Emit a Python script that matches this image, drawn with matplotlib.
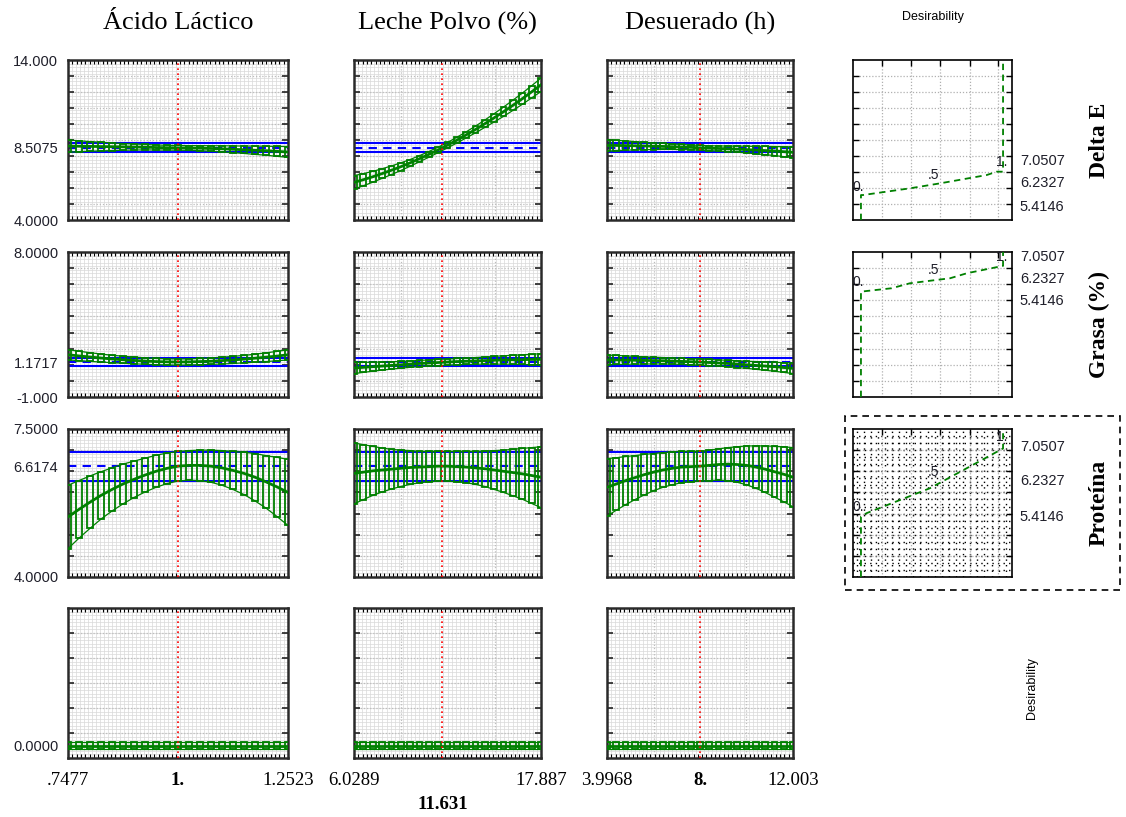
import numpy as np
import matplotlib
matplotlib.use('Agg')
import matplotlib.pyplot as plt
from matplotlib.patches import Rectangle

SERIF = 'Liberation Serif'
SANS = 'Liberation Sans'
W, H = 1126, 817

# ---- factors (columns) ----
factor_names = ['Ácido Láctico', 'Leche Polvo (%)', 'Desuerado (h)']
factor_lo = [0.7477, 6.0289, 3.9968]
factor_hi = [1.2523, 17.887, 12.003]
factor_cur = [1.0, 11.631, 8.0]
lo_labels = ['.7477', '6.0289', '3.9968']
hi_labels = ['1.2523', '17.887', '12.003']
cur_labels = ['1.', '11.631', '8.']
major_vgrid = [[], [9.0, 15.0], [6.0, 10.0]]

# ---- responses (rows) ----
resp_names = ['Delta E', 'Grasa (%)', 'Proteína']
resp_ylim = [(4.0, 14.0), (-1.0, 8.0), (4.0, 7.5)]
resp_step = [1.0, 1.0, 0.5]
resp_pred = [8.5075, 1.1717, 6.6174]
resp_ci_lo = [8.22, 0.93, 6.27]
resp_ci_hi = [8.79, 1.41, 6.96]
resp_top_lab = ['14.000', '8.0000', '7.5000']
resp_mid_lab = ['8.5075', '1.1717', '6.6174']
resp_bot_lab = ['4.0000', '-1.000', '4.0000']

# predicted profiles (21 points across each factor range) and CI half-widths
delta_acido = [8.62, 8.61, 8.60, 8.59, 8.58, 8.57, 8.56, 8.55, 8.53, 8.52, 8.51,
               8.50, 8.49, 8.47, 8.45, 8.42, 8.39, 8.36, 8.33, 8.29, 8.25]
delta_acido_e = [0.38, 0.34, 0.30, 0.27, 0.24, 0.21, 0.19, 0.17, 0.16, 0.15, 0.15,
                 0.15, 0.16, 0.17, 0.19, 0.21, 0.23, 0.26, 0.28, 0.31, 0.34]
delta_leche = [6.35, 6.52, 6.70, 6.90, 7.11, 7.33, 7.57, 7.83, 8.10, 8.38, 8.68,
               8.99, 9.32, 9.66, 10.02, 10.39, 10.77, 11.17, 11.58, 12.01, 12.45]
delta_leche_e = [0.42, 0.38, 0.34, 0.30, 0.27, 0.24, 0.21, 0.19, 0.18, 0.17, 0.17,
                 0.18, 0.19, 0.21, 0.23, 0.26, 0.29, 0.32, 0.35, 0.38, 0.42]
delta_desu = [8.66, 8.66, 8.65, 8.64, 8.63, 8.61, 8.60, 8.58, 8.56, 8.54, 8.51,
              8.49, 8.47, 8.45, 8.43, 8.40, 8.37, 8.34, 8.31, 8.27, 8.23]
delta_desu_e = [0.36, 0.32, 0.29, 0.26, 0.23, 0.21, 0.19, 0.17, 0.16, 0.15, 0.15,
                0.15, 0.16, 0.17, 0.19, 0.21, 0.23, 0.26, 0.28, 0.31, 0.34]

grasa_acido = [1.62, 1.55, 1.48, 1.42, 1.36, 1.31, 1.27, 1.23, 1.20, 1.18, 1.17,
               1.18, 1.20, 1.22, 1.26, 1.30, 1.35, 1.41, 1.47, 1.54, 1.62]
grasa_acido_e = [0.32, 0.29, 0.27, 0.25, 0.23, 0.22, 0.21, 0.20, 0.19, 0.19, 0.19,
                 0.19, 0.19, 0.20, 0.21, 0.22, 0.23, 0.25, 0.27, 0.29, 0.32]
grasa_leche = [0.80, 0.84, 0.88, 0.92, 0.96, 1.00, 1.04, 1.08, 1.11, 1.14, 1.17,
               1.20, 1.22, 1.24, 1.26, 1.28, 1.30, 1.31, 1.32, 1.33, 1.34]
grasa_leche_e = [0.35, 0.31, 0.28, 0.25, 0.23, 0.21, 0.20, 0.19, 0.19, 0.19, 0.19,
                 0.19, 0.20, 0.21, 0.22, 0.24, 0.26, 0.28, 0.30, 0.32, 0.35]
grasa_desu = [1.30, 1.30, 1.29, 1.28, 1.27, 1.26, 1.25, 1.23, 1.21, 1.19, 1.17,
              1.14, 1.11, 1.08, 1.04, 1.00, 0.96, 0.92, 0.88, 0.83, 0.78]
grasa_desu_e = [0.30, 0.28, 0.26, 0.24, 0.22, 0.21, 0.20, 0.19, 0.19, 0.19, 0.19,
                0.19, 0.19, 0.20, 0.21, 0.22, 0.24, 0.26, 0.28, 0.30, 0.33]

prot_acido = [5.42, 5.60, 5.77, 5.93, 6.07, 6.20, 6.31, 6.41, 6.50, 6.57, 6.62,
              6.64, 6.64, 6.62, 6.58, 6.52, 6.45, 6.36, 6.25, 6.13, 6.00]
prot_acido_e = [0.75, 0.68, 0.62, 0.56, 0.51, 0.47, 0.43, 0.40, 0.38, 0.36, 0.35,
                0.35, 0.36, 0.38, 0.41, 0.45, 0.50, 0.56, 0.62, 0.70, 0.78]
prot_leche = [6.45, 6.48, 6.51, 6.53, 6.55, 6.57, 6.59, 6.60, 6.61, 6.62, 6.62,
              6.61, 6.60, 6.58, 6.56, 6.53, 6.50, 6.47, 6.44, 6.40, 6.36]
prot_leche_e = [0.72, 0.65, 0.58, 0.52, 0.47, 0.43, 0.40, 0.37, 0.36, 0.35, 0.35,
                0.36, 0.37, 0.39, 0.42, 0.46, 0.50, 0.55, 0.60, 0.66, 0.72]
prot_desu = [6.12, 6.20, 6.28, 6.35, 6.42, 6.48, 6.53, 6.57, 6.60, 6.61, 6.62,
             6.64, 6.66, 6.67, 6.66, 6.64, 6.60, 6.55, 6.49, 6.43, 6.36]
prot_desu_e = [0.68, 0.62, 0.57, 0.52, 0.48, 0.44, 0.41, 0.39, 0.37, 0.36, 0.35,
               0.36, 0.37, 0.39, 0.42, 0.46, 0.50, 0.55, 0.60, 0.65, 0.70]

desir_vals = [0.0, 0.0, 0.0, 0.0, 0.0, 0.0, 0.0, 0.0, 0.0, 0.0, 0.0,
              0.0, 0.0, 0.0, 0.0, 0.0, 0.0, 0.0, 0.0, 0.0, 0.0]
desir_err = [0.03] * 21

profiles = [[(delta_acido, delta_acido_e), (delta_leche, delta_leche_e), (delta_desu, delta_desu_e)],
            [(grasa_acido, grasa_acido_e), (grasa_leche, grasa_leche_e), (grasa_desu, grasa_desu_e)],
            [(prot_acido, prot_acido_e), (prot_leche, prot_leche_e), (prot_desu, prot_desu_e)]]

# desirability functions (desirability on x, response on y)
dfun_d = [[0.0, 0.0, 0.014, 0.345, 0.556, 0.885, 0.955, 1.0, 1.0],
          [0.0, 0.0, 0.216, 0.345, 0.627, 0.745, 1.0, 1.0],
          [0.0, 0.0, 0.04, 0.486, 1.0, 1.0]]
dfun_v = [[4.0, 5.56, 5.56, 5.98, 6.29, 6.81, 7.02, 7.02, 14.0],
          [-1.0, 5.54, 5.75, 6.06, 6.37, 6.68, 7.14, 8.0],
          [4.0, 5.43, 5.51, 6.10, 7.04, 7.40]]
dfun_marks = ['0.', '.5', '1.']
dfun_mark_d = [-0.02, 0.51, 0.99]
dfun_mark_v = [[6.08, 6.81, 7.64], [6.16, 6.89, 7.71], [5.66, 6.49, 7.32]]
dside_labels = ['7.0507', '6.2327', '5.4146']
dside_frac = [[0.371, 0.229, 0.083], [0.968, 0.815, 0.660], [0.876, 0.651, 0.407]]
dgrid_x = [0.148, 0.352, 0.556, 0.768, 0.965]

# ---- layout (pixels) ----
col_x = [(68, 288), (354, 541), (607, 793), (853, 1012)]
row_y = [(60, 220), (252, 397), (429, 577), (608, 758)]


def rect(c, r):
    l, rr = col_x[c]
    t, b = row_y[r]
    return [l / W, 1 - b / H, (rr - l) / W, (b - t) / H]


GREEN = '#008000'
fig = plt.figure(figsize=(W / 100, H / 100), dpi=100)


def texture(ax, x0, x1, y0, y1, npx_w, npx_h):
    xs = np.linspace(x0, x1, int(npx_w / 4) + 1)
    ys = np.linspace(y0, y1, int(npx_h / 3.5) + 1)
    ax.vlines(xs, y0, y1, colors='#d9d9d9', lw=0.5, zorder=0)
    ax.hlines(ys, x0, x1, colors='#d9d9d9', lw=0.5, zorder=0)


for r in range(4):
    for c in range(3):
        ax = fig.add_axes(rect(c, r))
        x0, x1 = factor_lo[c], factor_hi[c]
        if r < 3:
            y0, y1 = resp_ylim[r]
            step = resp_step[r]
        else:
            y0, y1 = -0.1, 1.1
            step = 0.2
        pw = col_x[c][1] - col_x[c][0]
        ph = row_y[r][1] - row_y[r][0]
        texture(ax, x0, x1, y0, y1, pw, ph)
        yt = np.arange(y0 + step, y1 - step / 2, step)
        ax.hlines(yt, x0, x1, colors='#bdbdbd', lw=0.9, ls=(0, (1, 1.5)), zorder=0.5)
        if major_vgrid[c]:
            ax.vlines(major_vgrid[c], y0, y1, colors='#bdbdbd', lw=0.9, ls=(0, (1, 1.5)), zorder=0.5)

        xs = np.linspace(x0, x1, 21)
        if r < 3:
            mean, err = profiles[r][c]
            ax.axhline(resp_ci_hi[r], color='#0000ff', lw=1.5, zorder=2)
            ax.axhline(resp_ci_lo[r], color='#0000ff', lw=1.5, zorder=2)
            ax.axhline(resp_pred[r], color='#0000ff', lw=1.5, ls=(0, (4, 3)), zorder=2)
        else:
            mean, err = desir_vals, desir_err
        m = np.array(mean)
        e = np.array(err)
        # confidence boxes around each predicted point
        bw = (x1 - x0) / 20 * 0.62
        ax.bar(xs, 2 * e, bottom=m - e, width=bw, fill=False, edgecolor=GREEN,
               lw=1.3, zorder=3)
        ax.plot(xs, m, color=GREEN, lw=2.0, zorder=3)
        ax.plot(xs, m + e, color=GREEN, lw=0.9, zorder=3)
        ax.plot(xs, m - e, color=GREEN, lw=0.9, zorder=3)
        ax.axvline(factor_cur[c], color='#ff0000', lw=1.2, ls=(0, (1, 2)), zorder=4)

        ax.set_xlim(x0, x1)
        ax.set_ylim(y0, y1)
        ax.set_xticks([])
        ax.set_xticks(np.linspace(x0, x1, int(pw / 4.3) + 1), minor=True)
        ax.set_yticks(yt, minor=True)
        ax.tick_params(which='minor', axis='x', direction='in', top=True, bottom=True,
                       length=3, width=0.8, color='black')
        ax.tick_params(which='minor', axis='y', direction='in', left=True, right=True,
                       length=4, width=1.2, color='#222222')
        if r < 3:
            ylab_vals = [y1, resp_pred[r], y0]
            ylab_txt = [resp_top_lab[r], resp_mid_lab[r], resp_bot_lab[r]]
        else:
            ylab_vals = [0.0]
            ylab_txt = ['0.0000']
        ax.set_yticks(ylab_vals)
        ax.set_yticklabels(ylab_txt if c == 0 else [''] * len(ylab_vals),
                           fontsize=10.5, family=SANS, color='#1f1f2a')
        ax.tick_params(which='major', axis='y', length=0, pad=7)
        for s in ax.spines.values():
            s.set_linewidth(1.8)
            s.set_color('#2a2a2a')

        if r == 0:
            ax.set_title(factor_names[c], fontsize=19, family=SERIF, pad=22)
        if r == 3:
            tr = ax.get_xaxis_transform()
            ax.text(x0, -0.147, lo_labels[c], transform=tr, ha='center', va='center',
                    fontsize=13.5, family=SERIF)
            ax.text(x1, -0.147, hi_labels[c], transform=tr, ha='center', va='center',
                    fontsize=13.5, family=SERIF)
            cy = -0.313 if c == 1 else -0.147
            ax.text(factor_cur[c], cy, cur_labels[c], transform=tr, ha='center', va='center',
                    fontsize=13.5, family=SERIF, weight='bold')

# ---- desirability function panels ----
for r in range(3):
    ax = fig.add_axes(rect(3, r))
    y0, y1 = resp_ylim[r]
    step = resp_step[r]
    dx0, dx1 = -0.056, 1.063
    yt = np.arange(y0 + step, y1 - step / 2, step)
    if r == 2:
        ax.hlines(np.arange(y0, y1, step / 3), dx0, dx1, colors='black', lw=1.0,
                  ls=(0, (1, 3)), zorder=0)
        ax.vlines(np.arange(dx0 + 0.025, dx1, 0.05), y0, y1, colors='black', lw=1.0,
                  ls=(0, (1, 3)), zorder=0)
    ax.hlines(yt, dx0, dx1, colors='#b0b0b0', lw=0.9, ls=(0, (1, 1.5)), zorder=0.5)
    ax.vlines(dgrid_x, y0, y1, colors='#b0b0b0', lw=0.9, ls=(0, (1, 1.5)), zorder=0.5)
    ax.plot(dfun_d[r], dfun_v[r], color=GREEN, lw=1.3, ls=(0, (3.5, 2.5)), zorder=3)
    for k in range(3):
        ax.text(dfun_mark_d[k], dfun_mark_v[r][k], dfun_marks[k], ha='center', va='center',
                fontsize=10, family=SANS, color='#1f1f2a', zorder=4)
    for k in range(3):
        ax.text(1.05, dside_frac[r][k], dside_labels[k], transform=ax.transAxes,
                ha='left', va='center', fontsize=10.5, family=SANS, color='#1f1f2a')
    ax.text(1.55, 0.5, resp_names[r], transform=ax.transAxes, rotation=90,
            ha='center', va='center', fontsize=17, family=SERIF, weight='bold')
    ax.set_xlim(dx0, dx1)
    ax.set_ylim(y0, y1)
    ax.set_xticks(dgrid_x)
    ax.set_xticklabels([])
    ax.set_yticks(yt)
    ax.set_yticklabels([])
    ax.tick_params(axis='x', direction='in', top=True, bottom=False, length=4, width=1.0)
    ax.tick_params(axis='y', direction='in', left=True, right=True, length=4, width=1.0)
    for s in ax.spines.values():
        s.set_linewidth(1.2)
        s.set_color('black')

fig.text(933 / W, 1 - 17 / H, 'Desirability', ha='center', va='center',
         fontsize=9, family=SANS)
fig.text(1032 / W, 1 - 688 / H, 'Desirability', ha='center', va='center',
         fontsize=9, family=SANS, rotation=90)
fig.patches.append(Rectangle((845 / W, 1 - 590 / H), 275 / W, 174 / H,
                             transform=fig.transFigure, fill=False, ec='black',
                             lw=1.2, ls=(0, (4, 3))))

fig.savefig('out.png', dpi=100, facecolor='white')
